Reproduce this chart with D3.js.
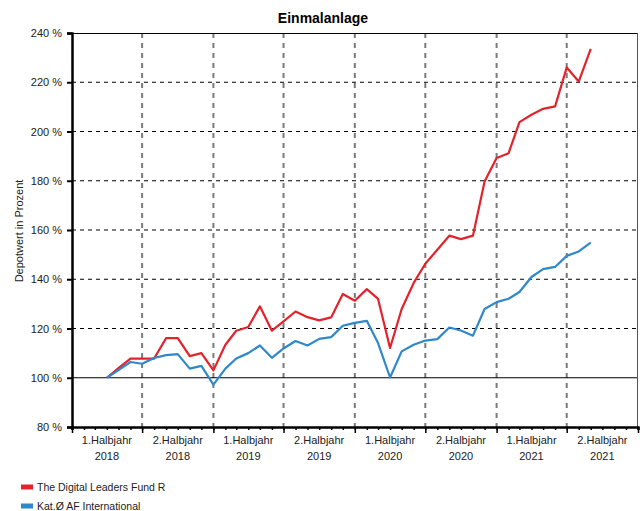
<!DOCTYPE html>
<html><head><meta charset="utf-8">
<script src="https://cdn.jsdelivr.net/npm/d3@7"></script>
<style>body{margin:0;background:#fff;} svg{display:block;font-family:"Liberation Sans",Arial,sans-serif;}</style>
</head><body>
<script>
const months = ["2018-04","2018-05","2018-06","2018-07","2018-08","2018-09","2018-10","2018-11","2018-12",
"2019-01","2019-02","2019-03","2019-04","2019-05","2019-06","2019-07","2019-08","2019-09","2019-10","2019-11","2019-12",
"2020-01","2020-02","2020-03","2020-04","2020-05","2020-06","2020-07","2020-08","2020-09","2020-10","2020-11","2020-12",
"2021-01","2021-02","2021-03","2021-04","2021-05","2021-06","2021-07","2021-08","2021-09"];
const fundValues = [100,103.9,107.8,107.8,107.8,116.1,116.1,108.8,110.0,
103.0,113.4,119.1,120.6,129.0,119.1,122.9,126.9,124.6,123.3,124.5,134.0,
131.3,136.0,132.0,112.1,127.9,138.5,146.3,152.0,157.7,156.3,157.7,179.7,
189.2,191.2,203.8,206.8,209.2,210.2,226.0,220.3,233.6];
const catValues = [100,103.1,106.4,105.7,108.0,109.2,109.6,103.7,104.8,
97.2,103.7,107.8,110.0,113.1,108.1,111.9,114.9,113.1,115.8,116.5,121.1,
122.3,123.1,114.1,100.1,110.7,113.4,115.1,115.7,120.4,119.2,117.1,127.9,
130.7,132.1,134.8,140.9,144.1,145.0,149.5,151.3,154.9];
const seriesNames = ["The Digital Leaders Fund R","Kat.Ø AF International"];
const seriesColors = ["#e3232c","#2f88c9"];
const yTicks = [80,100,120,140,160,180,200,220,240];
const halfYearLabels = [["1.Halbjahr","2018"],["2.Halbjahr","2018"],["1.Halbjahr","2019"],["2.Halbjahr","2019"],
["1.Halbjahr","2020"],["2.Halbjahr","2020"],["1.Halbjahr","2021"],["2.Halbjahr","2021"]];

const W=643,H=511;
const L=72,R=638,T=33,B=427;
const parse=d3.timeParse("%Y-%m");
const svg=d3.select("body").append("svg").attr("width",W).attr("height",H);
const x=d3.scaleTime().domain([new Date(2018,0,1),new Date(2022,0,1)]).range([L,R]);
const y=d3.scaleLinear().domain([80,240]).range([B,T]);

// horizontal grid
svg.append("g").selectAll("line").data(yTicks.filter(v=>v!==80&&v!==240&&v!==100)).join("line")
 .attr("x1",L).attr("x2",R).attr("y1",d=>y(d)).attr("y2",d=>y(d))
 .attr("stroke","#000").attr("stroke-width",1).attr("stroke-dasharray","4,4");
// vertical grid
const halfStarts=d3.timeMonth.every(6).range(new Date(2018,6,1),new Date(2022,0,1));
svg.append("g").selectAll("line").data(halfStarts).join("line")
 .attr("x1",d=>x(d)).attr("x2",d=>x(d)).attr("y1",T).attr("y2",B)
 .attr("stroke","#7a7a7a").attr("stroke-width",2).attr("stroke-dasharray","5,5");
// 100% line
svg.append("line").attr("x1",L).attr("x2",R).attr("y1",y(100)).attr("y2",y(100)).attr("stroke","#000").attr("stroke-width",1.2);
// frame top/right
svg.append("line").attr("x1",L).attr("x2",R).attr("y1",T+0.5).attr("y2",T+0.5).attr("stroke","#000").attr("stroke-width",1);
svg.append("line").attr("x1",R-0.5).attr("x2",R-0.5).attr("y1",T).attr("y2",B).attr("stroke","#555").attr("stroke-width",1);

// y axis
const yAxis=svg.append("g").attr("transform",`translate(${L},0)`)
 .call(d3.axisLeft(y).tickValues(yTicks).tickSize(5).tickPadding(5).tickFormat(d=>d+" %"));
yAxis.select(".domain").attr("stroke-width",2.5);
yAxis.selectAll(".tick line").attr("stroke-width",2);
yAxis.selectAll("text").attr("font-size",11).attr("font-family","Liberation Sans, Arial").attr("fill","#222");

// x axis
const xAxis=svg.append("g").attr("transform",`translate(0,${B})`)
 .call(d3.axisBottom(x).ticks(d3.timeMonth.every(1)).tickSize(3).tickFormat(""));
xAxis.select(".domain").attr("stroke-width",2.5);
xAxis.selectAll(".tick line").attr("stroke-width",1.5);
svg.append("g").attr("transform",`translate(0,${B})`)
 .call(d3.axisBottom(x).tickValues(d3.timeMonth.every(6).range(new Date(2018,0,1),new Date(2022,0,2))).tickSize(6).tickFormat(""))
 .call(g=>{g.select(".domain").remove();g.selectAll(".tick line").attr("stroke-width",1.5);});

const mids=halfYearLabels.map((d,i)=>new Date(2018,i*6+3,1));
const lab=svg.append("g").selectAll("g").data(halfYearLabels).join("g")
 .attr("transform",(d,i)=>`translate(${x(mids[i])},0)`);
lab.append("text").attr("y",444).attr("text-anchor","middle").attr("font-size",11).attr("fill","#222").text(d=>d[0]);
lab.append("text").attr("y",460).attr("text-anchor","middle").attr("font-size",11).attr("fill","#222").text(d=>d[1]);

// lines
const line=d3.line().x((d,i)=>x(parse(months[i]))).y(d=>y(d));
[fundValues,catValues].forEach((vals,k)=>{
 svg.append("path").datum(vals).attr("d",line).attr("fill","none")
  .attr("stroke",seriesColors[k]).attr("stroke-width",2.2).attr("stroke-linejoin","round");
});
// redraw fund on top? reference: red under blue at start; keep blue on top

// title
svg.append("text").attr("x",323).attr("y",23).attr("text-anchor","middle").attr("font-size",14).attr("font-weight","bold").text("Einmalanlage");
// y label
svg.append("text").attr("transform","translate(23,231) rotate(-90)").attr("text-anchor","middle").attr("font-size",11).attr("fill","#222").text("Depotwert in Prozent");

// legend
const leg=svg.append("g").selectAll("g").data(seriesNames).join("g")
 .attr("transform",(d,i)=>`translate(21,${487+i*19})`);
leg.append("rect").attr("x",0).attr("y",-2.5).attr("width",12).attr("height",5).attr("fill",(d,i)=>seriesColors[i]);
leg.append("text").attr("x",16).attr("y",4).attr("font-size",10.5).attr("fill","#222").text(d=>d);
</script>
</body></html>
